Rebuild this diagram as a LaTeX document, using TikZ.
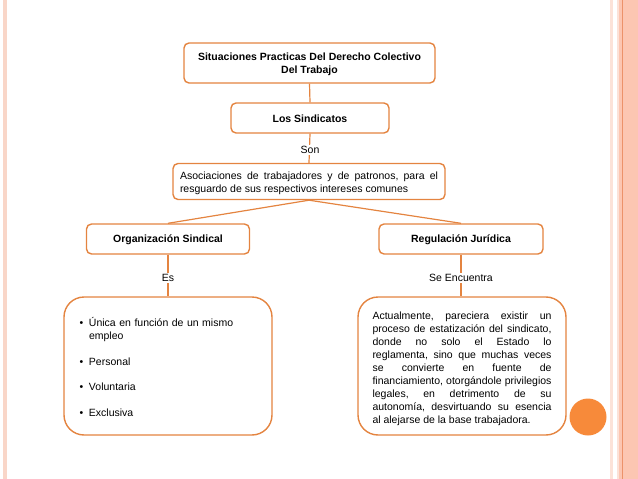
\documentclass[tikz,border=0pt]{standalone}
\usepackage{fontspec}
\setmainfont{Liberation Sans}
\definecolor{borderor}{RGB}{228,132,64}
\definecolor{circleor}{RGB}{247,138,58}
\definecolor{bandpeach}{RGB}{252,198,178}
\definecolor{bandline}{RGB}{236,146,106}
\definecolor{stripe}{RGB}{249,214,200}
\definecolor{stripelt}{RGB}{252,226,216}
\newcommand{\jlx}[2]{\hbox to #1{#2}}
\newcommand{\wsp}{\hfill}
\tikzset{
  boxnode/.style={draw=borderor, line width=1.4pt, rounded corners=5pt, fill=white,
    inner sep=0pt, font=\fontsize{10.5}{13}\selectfont\bfseries, align=center},
  bigbox/.style={draw=borderor, line width=1.4pt, rounded corners=20pt, fill=white,
    inner sep=0pt, minimum width=208pt, minimum height=138pt,
    font=\fontsize{10.5}{13}\selectfont},
  conn/.style={draw=borderor, line width=1.2pt},
  lbl/.style={font=\fontsize{10.5}{13}\selectfont, inner sep=1.5pt, fill=white}
}
\begin{document}
\begin{tikzpicture}[x=1pt,y=-1pt]
\useasboundingbox (0,0) rectangle (638,479);
% side decorations
\fill[stripe] (3,0) rectangle (7,479);
\fill[stripelt] (610,0) rectangle (613,479);
\fill[stripelt] (617,0) rectangle (619,479);
\fill[bandpeach] (619,0) rectangle (638,479);
\draw[bandline, line width=1.3pt] (622.3,0) -- (622.3,479);

% nodes
\node[boxnode, minimum width=251pt, minimum height=40pt] (title) at (309.5,63)
  {\raisebox{-1.5pt}[\height][\depth]{\begin{tabular}{@{}c@{}}Situaciones Practicas Del Derecho Colectivo\\Del Trabajo\end{tabular}}};
\node[boxnode, minimum width=158pt, minimum height=30pt] (sind) at (310,118)
  {\raisebox{-0.8pt}[\height][\depth]{Los Sindicatos}};
\node[boxnode, minimum width=272pt, minimum height=36pt,
  font=\fontsize{10.5}{13}\selectfont] (asoc) at (309,181.5)
  {\raisebox{-2pt}[\height][\depth]{\begin{tabular}{@{}l@{}}
   \jlx{258pt}{Asociaciones\wsp de\wsp trabajadores\wsp y\wsp de\wsp patronos,\wsp para\wsp el}\\
   resguardo de sus respectivos intereses comunes\end{tabular}}};
\node[boxnode, minimum width=163pt, minimum height=30pt] (os) at (168,239)
  {\raisebox{-0.8pt}[\height][\depth]{Organización Sindical}};
\node[boxnode, minimum width=164pt, minimum height=30pt] (rj) at (461,239)
  {\raisebox{-0.8pt}[\height][\depth]{Regulación Jurídica}};

\node[bigbox, inner xsep=15pt, text width=178pt, align=left] (lista) at (168,366)
  {\raisebox{-3pt}[\height][\depth]{\begin{tabular}{@{}p{10pt}@{}l@{}}
   \hspace{0.5pt}• & Única en función de un mismo\\
     & empleo\\[12.5pt]
   \hspace{0.5pt}• & Personal\\[12.5pt]
   \hspace{0.5pt}• & Voluntaria\\[12.5pt]
   \hspace{0.5pt}• & Exclusiva
   \end{tabular}}};

\node[bigbox] (texto) at (462,366)
  {\raisebox{-3pt}[\height][\depth]{\begin{tabular}{@{}l@{}}
   \jlx{179pt}{Actualmente,\wsp pareciera\wsp existir\wsp un}\\
   \jlx{179pt}{proceso\wsp de\wsp estatización\wsp del\wsp sindicato,}\\
   \jlx{179pt}{donde\wsp no\wsp solo\wsp el\wsp Estado\wsp lo}\\
   \jlx{179pt}{reglamenta,\wsp sino\wsp que\wsp muchas\wsp veces}\\
   \jlx{179pt}{se\wsp convierte\wsp en\wsp fuente\wsp de}\\
   \jlx{179pt}{financiamiento,\wsp otorgándole\wsp privilegios}\\
   \jlx{179pt}{legales,\wsp en\wsp detrimento\wsp de\wsp su}\\
   \jlx{179pt}{autonomía,\wsp desvirtuando\wsp su\wsp esencia}\\
   al alejarse de la base trabajadora.\end{tabular}}};

\node[fill=circleor, circle, minimum size=37pt, inner sep=0pt] (dot) at (588,417) {};

% connectors
\draw[conn] (title.south) -- (sind.north);
\draw[conn] (sind.south) -- (asoc.north);
\draw[conn] (asoc.south) -- (os.north);
\draw[conn] (asoc.south) -- (rj.north);
\draw[conn] (os.south) -- (os.south |- lista.north);
\draw[conn] (rj.south) -- (rj.south |- texto.north);

% labels
\node[lbl] (son) at (310,150) {Son};
\node[lbl] (es) at (168,278) {Es};
\node[lbl] (se) at (461,278) {Se Encuentra};
\end{tikzpicture}
\end{document}
